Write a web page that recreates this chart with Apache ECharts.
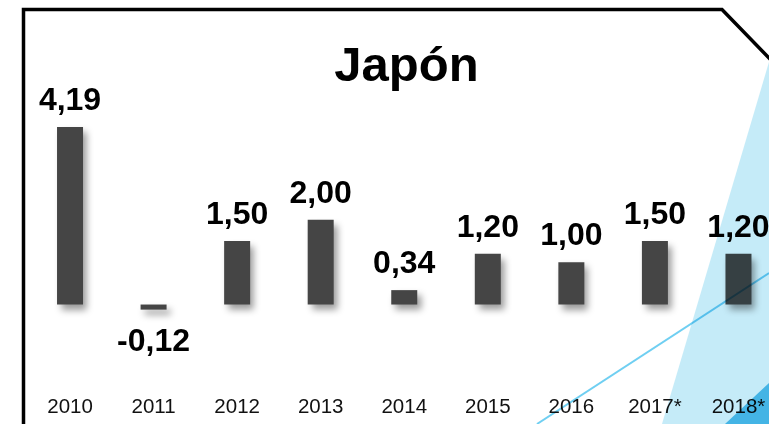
<!DOCTYPE html>
<html>
<head>
<meta charset="utf-8">
<script src="https://cdn.jsdelivr.net/npm/echarts@6/dist/echarts.min.js"></script>
<style>
html,body{margin:0;padding:0;background:#fff;}
#chart{width:769px;height:424px;}
</style>
</head>
<body>
<div id="chart"></div>
<script>
const titleText = "Japón";
const categories = ["2010","2011","2012","2013","2014","2015","2016","2017*","2018*"];
const values = [4.19, -0.12, 1.50, 2.00, 0.34, 1.20, 1.00, 1.50, 1.20];

const FONT = '"Liberation Sans", Arial, sans-serif';
const chart = echarts.init(document.getElementById('chart'));

const seriesData = values.map(v => ({
  value: v,
  label: { position: v < 0 ? 'bottom' : 'top', distance: v < 0 ? 17 : 10 }
}));

chart.setOption({
  animation: false,
  backgroundColor: '#ffffff',
  title: {
    text: titleText,
    left: 401.5,
    textAlign: 'center',
    top: 38,
    textStyle: { fontFamily: FONT, fontSize: 49, fontWeight: 'bold', color: '#000' }
  },
  grid: { left: 28.25, width: 752, top: 92.7, height: 254.2, containLabel: false, outerBoundsMode: 'none' },
  xAxis: {
    type: 'category',
    data: categories,
    axisLine: { show: false, onZero: false },
    axisTick: { show: false },
    axisLabel: { margin: 50, fontFamily: FONT, fontSize: 20.5, color: '#111', interval: 0 }
  },
  yAxis: {
    type: 'value',
    min: -1,
    max: 5,
    interval: 1,
    show: false,
    splitLine: { show: false }
  },
  series: [{
    type: 'bar',
    data: seriesData,
    barWidth: 26,
    itemStyle: {
      color: '#454545',
      shadowColor: 'rgba(0,0,0,0.4)',
      shadowBlur: 7,
      shadowOffsetX: 4,
      shadowOffsetY: 5
    },
    label: {
      show: true,
      fontFamily: FONT,
      fontSize: 32,
      fontWeight: 'bold',
      color: '#000',
      formatter: p => p.value.toFixed(2).replace('.', ',')
    }
  }],
  graphic: [
    {
      type: 'polyline', z: 100, silent: true,
      shape: { points: [[23.5, 430], [23.5, 9.5], [722, 9.5], [772, 61]] },
      style: { stroke: '#000', lineWidth: 3.5, fill: null, lineJoin: 'miter' }
    },
    {
      type: 'polygon', z: 101, silent: true,
      shape: { points: [[769, 62], [662, 424], [769, 424]] },
      style: { fill: '#c5ebf8', blend: 'multiply' }
    },
    {
      type: 'polygon', z: 102, silent: true,
      shape: { points: [[769, 383], [725, 424], [769, 424]] },
      style: { fill: '#58c3ec', blend: 'multiply' }
    },
    {
      type: 'line', z: 103, silent: true,
      shape: { x1: 537, y1: 424, x2: 769, y2: 273 },
      style: { stroke: '#6fcff2', lineWidth: 2, blend: 'multiply' }
    }
  ]
});
</script>
</body>
</html>
